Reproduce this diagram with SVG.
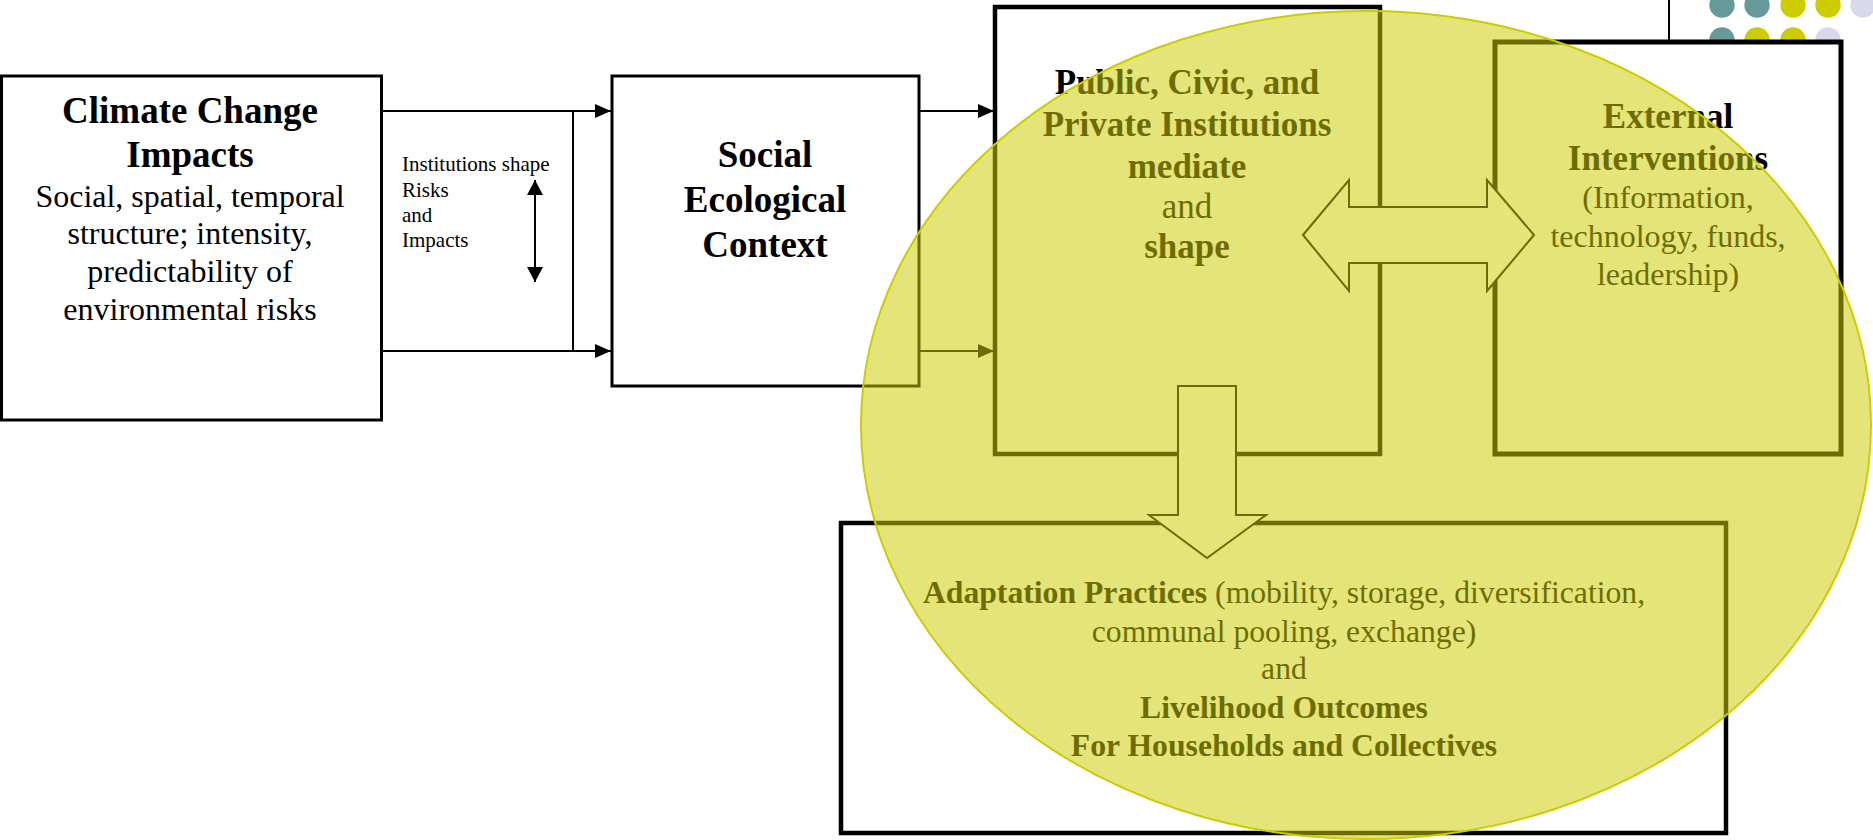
<svg xmlns="http://www.w3.org/2000/svg" width="1873" height="840" viewBox="0 0 1873 840">
<style>
.box{fill:#fff;stroke:#000}
.t{font-family:"Liberation Serif","Times New Roman",serif;fill:#000;text-anchor:middle}
.s{text-anchor:start}
.b{font-weight:bold}
.conn{stroke:#000;stroke-width:2;fill:none}
.bigarrow{fill:#fff;stroke:#000;stroke-width:2}
.teal{fill:#669999}.yel{fill:#cccc00}.lav{fill:#d9d9ed}
</style>
<defs>
<marker id="ah" markerWidth="16" markerHeight="14" refX="16" refY="7" orient="auto" markerUnits="userSpaceOnUse">
<path d="M0,0 L16,7 L0,14 Z" fill="#000"/>
</marker>
<marker id="ahs" markerWidth="16" markerHeight="16" refX="15" refY="8" orient="auto-start-reverse" markerUnits="userSpaceOnUse">
<path d="M0,0 L15,8 L0,16 Z" fill="#000"/>
</marker>
</defs>
<rect width="1873" height="840" fill="#fff"/>

<g id="decoration">
<circle class="teal" cx="1722" cy="5" r="12.7"/>
<circle class="teal" cx="1757" cy="5" r="12.7"/>
<circle class="yel" cx="1793" cy="5" r="12.7"/>
<circle class="yel" cx="1828" cy="5" r="12.7"/>
<circle class="lav" cx="1863" cy="5" r="12.7"/>
<circle class="teal" cx="1722" cy="40" r="12.7"/>
<circle class="yel" cx="1757" cy="40" r="12.7"/>
<circle class="yel" cx="1793" cy="40" r="12.7"/>
<circle class="lav" cx="1828" cy="40" r="12.7"/>
<line x1="1669" y1="0" x2="1669" y2="42" stroke="#000" stroke-width="2"/>
</g>

<g id="climate">
<rect class="box" x="1.5" y="76" width="380" height="344" stroke-width="3"/>
<text class="t b" x="190" y="123" font-size="37">Climate Change</text>
<text class="t b" x="190" y="167" font-size="37">Impacts</text>
<text class="t" x="190" y="207" font-size="32">Social, spatial, temporal</text>
<text class="t" x="190" y="244" font-size="32">structure; intensity,</text>
<text class="t" x="190" y="282" font-size="32">predictability of</text>
<text class="t" x="190" y="320" font-size="32">environmental risks</text>
</g>

<g id="social">
<rect class="box" x="612" y="76" width="307" height="310" stroke-width="3"/>
<text class="t b" x="765" y="167" font-size="37">Social</text>
<text class="t b" x="765" y="212" font-size="37">Ecological</text>
<text class="t b" x="765" y="257" font-size="37">Context</text>
</g>

<g id="institutions">
<rect class="box" x="995" y="7" width="385" height="447" stroke-width="4.5"/>
<text class="t b" x="1187" y="94" font-size="35">Public, Civic, and</text>
<text class="t b" x="1187" y="136" font-size="35">Private Institutions</text>
<text class="t b" x="1187" y="178" font-size="35">mediate</text>
<text class="t" x="1187" y="218" font-size="35">and</text>
<text class="t b" x="1187" y="258" font-size="35">shape</text>
</g>

<g id="external">
<rect class="box" x="1495" y="42" width="346" height="412" stroke-width="5"/>
<text class="t b" x="1668" y="128" font-size="35">External</text>
<text class="t b" x="1668" y="170" font-size="35">Interventions</text>
<text class="t" x="1668" y="208" font-size="32">(Information,</text>
<text class="t" x="1668" y="247" font-size="32">technology, funds,</text>
<text class="t" x="1668" y="285" font-size="32">leadership)</text>
</g>

<g id="outcomes">
<rect class="box" x="841" y="523" width="885" height="310" stroke-width="4.5"/>
<text class="t" x="1284" y="603" font-size="31.7"><tspan font-weight="bold">Adaptation Practices</tspan> (mobility, storage, diversification,</text>
<text class="t" x="1284" y="642" font-size="31.7">communal pooling, exchange)</text>
<text class="t" x="1284" y="679" font-size="31.7">and</text>
<text class="t b" x="1284" y="718" font-size="31.7">Livelihood Outcomes</text>
<text class="t b" x="1284" y="756" font-size="31.7">For Households and Collectives</text>
</g>

<g id="connectors">
<line class="conn" x1="381" y1="111" x2="611" y2="111" marker-end="url(#ah)"/>
<line class="conn" x1="381" y1="351" x2="611" y2="351" marker-end="url(#ah)"/>
<line class="conn" x1="573" y1="111" x2="573" y2="351"/>
<line class="conn" x1="919" y1="111" x2="994" y2="111" marker-end="url(#ah)"/>
<line class="conn" x1="919" y1="351" x2="994" y2="351" marker-end="url(#ah)"/>
<line class="conn" x1="535" y1="180" x2="535" y2="282" stroke-width="2.5" marker-start="url(#ahs)" marker-end="url(#ahs)"/>
<path class="bigarrow" d="M1303,235 L1349,180 L1349,207 L1487,207 L1487,180 L1534,235 L1487,291 L1487,263 L1349,263 L1349,291 Z"/>
<path class="bigarrow" d="M1178,386 L1236,386 L1236,515 L1266,515 L1207,558 L1149,515 L1178,515 Z"/>
</g>

<g id="note">
<text class="t s" x="402" y="171" font-size="21">Institutions shape</text>
<text class="t s" x="402" y="197" font-size="21">Risks</text>
<text class="t s" x="402" y="222" font-size="21">and</text>
<text class="t s" x="402" y="247" font-size="21">Impacts</text>
</g>

<g id="highlight">
<ellipse cx="1366" cy="425" rx="505" ry="414" fill="#cccc00" fill-opacity="0.53" stroke="#cccc00" stroke-width="2"/>
</g>
</svg>
